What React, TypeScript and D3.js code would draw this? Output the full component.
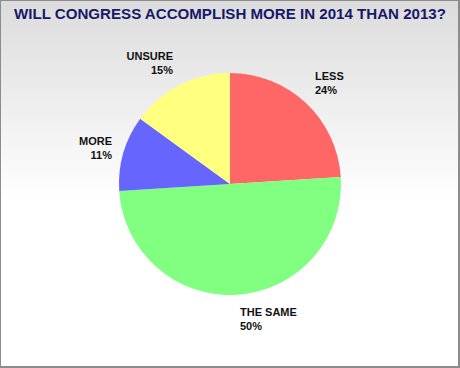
import React from "react";
import * as d3 from "d3";

const categories = ["LESS", "THE SAME", "MORE", "UNSURE"];
const values = [24, 50, 11, 15];
const colors = ["#FF6666", "#80FF80", "#6666FF", "#FFFF80"];
const title = "WILL CONGRESS ACCOMPLISH MORE IN 2014 THAN 2013?";

const W = 460;
const H = 368;
const cx = 230;
const cy = 184;
const R = 111;

// label placement: [x, y of first line, anchor]
const labelPos: [number, number, "start" | "end"][] = [
  [315, 80, "start"],
  [240, 316, "start"],
  [112, 145, "end"],
  [173, 60, "end"],
];

export default function App() {
  const pie = d3.pie<number>().sort(null).value((d) => d)(values);
  const arc = d3.arc<d3.PieArcDatum<number>>().innerRadius(0).outerRadius(R);
  return (
    <svg
      width={W}
      height={H}
      style={{ position: "absolute", left: 0, top: 0 }}
      fontFamily="'Liberation Sans', Arial, sans-serif"
    >
      <defs>
        <linearGradient id="bg" x1="0" y1="0" x2="0" y2="1">
          <stop offset="0" stopColor="#dcdcdc" />
          <stop offset="0.55" stopColor="#ffffff" />
          <stop offset="1" stopColor="#ffffff" />
        </linearGradient>
      </defs>
      <rect x={0.5} y={0.5} width={W - 1.5} height={H - 1.5} fill="url(#bg)" stroke="#8c8c8c" strokeWidth={1} />
      <line x1={W - 1} y1={0} x2={W - 1} y2={H} stroke="#8c8c8c" strokeWidth={2} />
      <line x1={0} y1={H - 1} x2={W} y2={H - 1} stroke="#8c8c8c" strokeWidth={2} />
      <text x={230} y={19} textAnchor="middle" fontSize={15.1} fontWeight="bold" fill="#17176b">
        {title}
      </text>
      <g transform={`translate(${cx},${cy})`}>
        {pie.map((p, i) => (
          <path key={i} d={arc(p) || ""} fill={colors[i]} />
        ))}
      </g>
      {categories.map((c, i) => {
        const [x, y, anchor] = labelPos[i];
        return (
          <text key={c} x={x} y={y} textAnchor={anchor} fontSize={11} fontWeight="bold" fill="#111">
            <tspan x={x}>{c}</tspan>
            <tspan x={x} dy={14}>{values[i]}%</tspan>
          </text>
        );
      })}
    </svg>
  );
}
